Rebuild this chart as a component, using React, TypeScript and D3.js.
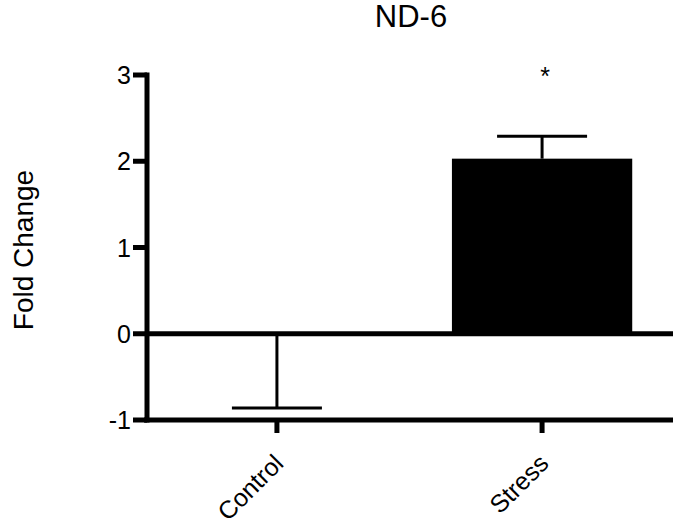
import * as d3 from 'd3';

// values
const categories = ['Control', 'Stress'];
const means = [-0.01, 2.03];
const errors = [0.85, 0.26];
const marks = ['', '*'];
const yTicks = [-1, 0, 1, 2, 3];
const title = 'ND-6';
const yLabel = 'Fold Change';

const W = 677;
const H = 532;
const font = "Arial, 'Liberation Sans', sans-serif";

export default function App() {
  const axisX = 147;
  const y = d3.scaleLinear().domain([-1, 3]).range([420, 75]);
  const x = d3
    .scaleBand<string>()
    .domain(categories)
    .range([axisX, 672])
    .paddingInner(0.32)
    .paddingOuter(0.15);

  const bw = x.bandwidth();
  const capHalf = 45;
  const y0 = y(0);
  const yBottom = y(-1);

  return (
    <svg
      width={W}
      height={H}
      viewBox={`0 0 ${W} ${H}`}
      style={{ position: 'absolute', left: 0, top: 0, background: '#fff' }}
      fontFamily={font}
    >
      <text x={411} y={27} fontSize={31} textAnchor="middle" fill="#000">
        {title}
      </text>

      {/* bars */}
      {categories.map((c, i) => {
        const v = means[i];
        const cx = x(c)! + bw / 2;
        const top = y(Math.max(v, 0));
        const h = Math.abs(y(v) - y0);
        const errEnd = v >= 0 ? v + errors[i] : v - errors[i];
        const dir = v > 0 ? 1 : -1;
        return (
          <g key={c}>
            {h > 0 && (
              <rect x={x(c)} y={top} width={bw} height={h} fill="#000" />
            )}
            <line x1={cx} x2={cx} y1={y(v)} y2={y(errEnd)} stroke="#000" strokeWidth={3} />
            <line
              x1={cx - capHalf}
              x2={cx + capHalf}
              y1={y(errEnd)}
              y2={y(errEnd)}
              stroke="#000"
              strokeWidth={3}
            />
            {marks[i] && (
              <text
                x={cx + 3}
                y={y(errEnd) - 51 * dir}
                fontSize={25}
                textAnchor="middle"
                fill="#000"
              >
                {marks[i]}
              </text>
            )}
          </g>
        );
      })}

      {/* zero line */}
      <line x1={axisX} x2={673} y1={y0} y2={y0} stroke="#000" strokeWidth={5} />

      {/* x axis */}
      <line x1={axisX - 3} x2={673} y1={yBottom} y2={yBottom} stroke="#000" strokeWidth={5} />
      {categories.map((c) => {
        const cx = x(c)! + bw / 2;
        return (
          <g key={'t' + c}>
            <line x1={cx} x2={cx} y1={yBottom} y2={yBottom + 13} stroke="#000" strokeWidth={5} />
            <text
              transform={`translate(${cx + 8},${465}) rotate(-45)`}
              fontSize={25}
              textAnchor="end"
              fill="#000"
            >
              {c}
            </text>
          </g>
        );
      })}

      {/* y axis */}
      <line x1={axisX} x2={axisX} y1={y(3) - 2.5} y2={yBottom + 2.5} stroke="#000" strokeWidth={5} />
      {yTicks.map((t) => (
        <g key={t}>
          <line x1={axisX - 14} x2={axisX} y1={y(t)} y2={y(t)} stroke="#000" strokeWidth={5} />
          <text x={axisX - 16} y={y(t)} dy="0.36em" fontSize={25} textAnchor="end" fill="#000">
            {t}
          </text>
        </g>
      ))}

      <text
        transform={`translate(33,${250}) rotate(-90)`}
        fontSize={28}
        textAnchor="middle"
        fill="#000"
      >
        {yLabel}
      </text>
    </svg>
  );
}
